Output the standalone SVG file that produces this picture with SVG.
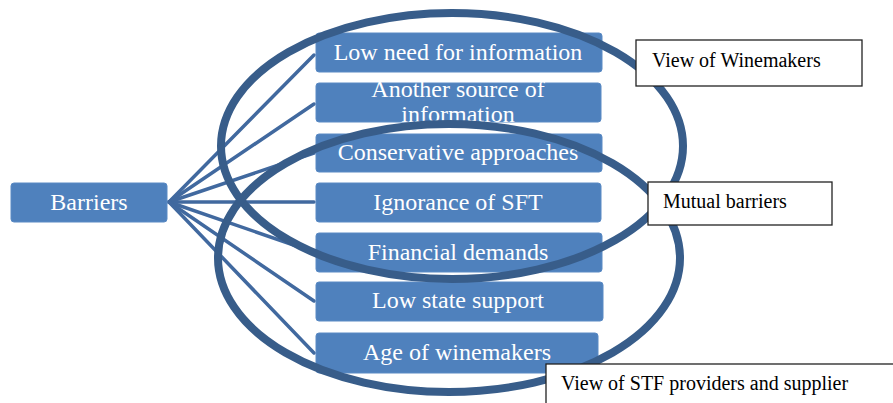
<svg xmlns="http://www.w3.org/2000/svg" width="893" height="403" viewBox="0 0 893 403">
<style>
.box{fill:#4f81bd;stroke:#5a8ac4;stroke-width:1}
.bt{font-family:'Liberation Serif','Times New Roman',serif;font-size:24px;fill:#ffffff;text-anchor:middle}
.conn{stroke:#41699f;stroke-width:3.5;fill:none;stroke-linecap:round}
.ell{fill:none;stroke:#385d8a;stroke-width:8}
.lab{fill:#ffffff;stroke:#222222;stroke-width:1.3}
.lt{font-family:'Liberation Serif','Times New Roman',serif;font-size:20px;fill:#000000}
</style>
<rect width="893" height="403" fill="#ffffff"/>
<g id="connectors">
<line class="conn" x1="169" y1="202" x2="314" y2="55"/>
<line class="conn" x1="169" y1="202" x2="314" y2="104"/>
<line class="conn" x1="169" y1="202" x2="314" y2="153"/>
<line class="conn" x1="169" y1="202" x2="314" y2="202"/>
<line class="conn" x1="169" y1="202" x2="314" y2="252"/>
<line class="conn" x1="169" y1="202" x2="314" y2="301"/>
<line class="conn" x1="169" y1="202" x2="314" y2="353"/>
</g>
<g id="barriers"><rect class="box" x="11" y="183" width="156" height="39" rx="3"/><text class="bt" x="89" y="210">Barriers</text></g>
<g id="n1"><rect class="box" x="316" y="33" width="286" height="39" rx="3"/><text class="bt" x="458" y="60">Low need for information</text></g>
<g id="n2"><rect class="box" x="316" y="83" width="285" height="39" rx="3"/><text class="bt" x="458" y="97">Another source of</text><text class="bt" x="458" y="122">information</text></g>
<g id="n3"><rect class="box" x="316" y="134" width="286" height="38" rx="3"/><text class="bt" x="458" y="160">Conservative approaches</text></g>
<g id="n4"><rect class="box" x="316" y="183" width="285" height="39" rx="3"/><text class="bt" x="458" y="210">Ignorance of SFT</text></g>
<g id="n5"><rect class="box" x="316" y="233" width="286" height="39" rx="3"/><text class="bt" x="458" y="260">Financial demands</text></g>
<g id="n6"><rect class="box" x="316" y="282" width="287" height="39" rx="3"/><text class="bt" x="458" y="308">Low state support</text></g>
<g id="n7"><rect class="box" x="316" y="333" width="282" height="40" rx="3"/><text class="bt" x="457" y="360">Age of winemakers</text></g>
<g id="ellipses">
<ellipse class="ell" cx="452" cy="146" rx="231" ry="133"/>
<ellipse class="ell" cx="449" cy="258" rx="231" ry="134"/>
</g>
<g id="view-winemakers"><rect class="lab" x="636" y="40" width="226" height="46"/><text class="lt" x="652" y="67">View of Winemakers</text></g>
<g id="mutual"><rect class="lab" x="648" y="182" width="184" height="43"/><text class="lt" x="663" y="208">Mutual barriers</text></g>
<g id="view-stf"><rect class="lab" x="546" y="364" width="360" height="50"/><text class="lt" x="561" y="390">View of STF providers and supplier</text></g>
</svg>
